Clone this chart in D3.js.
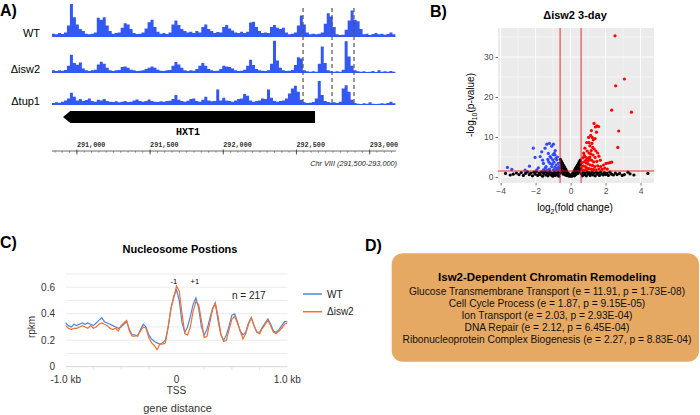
<!DOCTYPE html>
<html><head><meta charset="utf-8">
<script src="https://cdn.jsdelivr.net/npm/d3@7"></script>
<style>body{margin:0;background:#fff}svg{display:block;font-family:"Liberation Sans",Arial,sans-serif}</style>
</head><body>
<svg id="fig" width="700" height="415"></svg>
<script>
// ---------- Panel A data ----------
const trackNames = ["WT", "\u0394isw2", "\u0394tup1"];
const trackStart = 290830, trackEnd = 293180, binSize = 20.4;
const wtCov = [10,8,12,9,14,35,100,60,38,24,18,10,8,10,14,58,52,60,35,18,10,12,14,28,42,38,24,12,9,10,14,26,45,52,30,16,10,12,9,14,38,50,36,24,18,14,16,12,18,14,30,38,24,18,12,15,14,30,36,26,20,14,12,16,12,16,44,46,30,18,12,14,12,30,36,28,24,28,14,8,10,14,35,65,38,14,8,10,8,10,14,40,72,62,30,8,6,7,22,50,80,52,48,24,8,10,6,9,12,8,10,7,9,14,8];
const isw2Cov = [8,6,8,7,9,22,55,30,25,32,14,8,6,8,10,26,34,28,16,8,6,8,9,18,20,16,10,8,6,7,8,12,16,20,16,10,7,6,8,9,22,33,26,16,8,6,8,7,12,22,30,22,12,8,6,7,12,22,20,18,14,8,6,7,10,22,40,24,12,8,7,6,8,28,98,38,16,8,6,7,9,24,48,44,8,5,4,5,4,28,80,30,8,5,4,5,4,10,96,50,22,8,5,4,5,3,4,6,3,8,4,5,4,6,4];
const tup1Cov = [6,8,7,10,14,20,37,25,14,18,12,15,20,12,10,16,14,18,12,10,9,11,8,10,12,9,10,14,17,12,10,12,17,12,10,9,11,10,12,13,18,30,16,12,10,13,18,20,12,10,16,25,14,11,12,47,14,22,14,12,10,14,18,20,33,28,14,10,12,14,20,18,47,22,12,10,12,14,20,35,50,58,40,16,8,6,7,9,20,73,30,12,9,7,8,6,10,50,60,40,16,6,4,3,5,4,8,4,3,4,5,4,6,10,5];
const dashedMarks = [292545, 292743, 292893];
const geneName = "HXT1";
const geneSpan = [290905, 290955, 292627]; // tip, body start, end
const aTicks = [291000, 291500, 292000, 292500, 293000];
const regionLabel = "Chr VIII (291,500-293,000)";

// ---------- Panel B data ----------
const volcanoTitle = "\u0394isw2 3-day";
const fcCut = [-0.6, 0.6], pCut = 1.5;
const bTicksX = [-4, -2, 0, 2, 4], bTicksY = [0, 10, 20, 30];
const downPts = [[-3.61,2.4],[-3.36,1.9],[-2.35,2.7],[-2.13,7.2],[-2.03,4.9],[-1.84,2.3],[-1.93,1.8],[-1.74,5.1],[-1.65,6.3],[-1.55,3.4],[-1.55,1.8],[-1.46,7.2],[-1.40,2.6],[-1.36,8.2],[-1.27,5.9],[-1.21,8.4],[-1.17,5.1],[-1.17,3.4],[-1.08,7.7],[-1.08,2.6],[-1.02,4.3],[-0.98,8.2],[-0.98,1.8],[-0.93,6.0],[-0.89,5.5],[-0.85,4.6],[-0.83,3.0],[-0.79,4.3],[-0.76,2.2],[-0.70,3.4],[-0.70,2.0],[-0.66,2.6],[-1.30,4.4],[-1.25,3.8],[-1.12,4.8],[-1.05,3.2],[-0.95,3.7],[-0.90,2.4],[-1.45,2.2],[-1.60,4.2],[-1.20,2.0],[-0.88,6.6],[-1.00,5.6],[-0.75,5.0],[-0.64,1.9],[-2.60,1.7],[-1.33,1.7],[-0.82,1.7]];
const upPts = [[2.54,35.3],[3.08,24.5],[2.58,22.8],[2.35,16.7],[3.48,16.2],[2.75,11.5],[2.70,7.4],[1.34,13.4],[1.50,12.8],[1.60,12.6],[1.19,11.6],[1.15,10.4],[1.03,9.9],[1.24,9.9],[1.30,9.3],[1.40,9.6],[0.92,8.6],[1.10,7.8],[1.22,8.4],[0.82,7.2],[1.35,7.0],[1.45,6.5],[1.55,6.0],[1.62,5.2],[0.75,6.0],[0.95,6.5],[1.05,6.0],[1.15,5.8],[1.28,5.5],[1.40,4.9],[0.70,4.8],[0.85,5.0],[0.98,4.7],[1.08,4.4],[1.20,4.2],[1.32,3.8],[1.50,3.9],[1.70,4.2],[0.65,3.6],[0.78,3.8],[0.90,3.5],[1.00,3.3],[1.12,3.0],[1.25,2.9],[1.38,2.6],[1.55,2.8],[0.62,2.5],[0.72,2.8],[0.85,2.6],[0.95,2.2],[1.05,2.1],[1.18,2.0],[1.30,1.9],[1.45,1.8],[1.62,2.0],[1.72,2.6],[1.80,1.9],[1.88,3.0],[2.03,3.4],[2.26,3.6],[2.35,3.7],[2.16,3.5],[1.95,2.2],[2.10,2.0],[0.68,1.8],[0.80,1.7],[0.92,1.9],[1.00,4.0],[0.88,4.2],[1.10,5.0],[1.18,6.6],[0.78,5.4],[1.26,7.4],[1.05,8.6],[1.48,11.2],[1.42,12.5]];
const nsPts = [[-3.72,0.9],[-3.45,0.5],[-3.28,0.7],[-3.10,1.0],[-2.95,0.6],[-2.82,1.1],[-2.70,0.4],[-2.58,0.9],[-2.47,1.3],[-2.36,0.6],[-2.28,1.0],[-2.18,0.3],[-2.10,1.2],[-2.02,0.7],[-1.95,1.4],[-1.88,0.4],[-1.80,1.0],[-1.73,0.6],[-1.66,1.3],[-1.60,0.2],[-1.54,0.9],[-1.48,1.4],[-1.42,0.5],[-1.36,1.1],[-1.30,0.3],[-1.25,0.8],[-1.19,1.4],[-1.13,0.5],[-1.08,1.0],[-1.02,0.2],[-0.97,0.7],[-0.92,1.3],[-0.87,0.4],[-0.82,1.0],[-0.77,0.6],[-0.72,1.3],[-0.67,0.2],[-0.62,0.9],
[-0.58,4.4],[-0.56,3.6],[-0.55,2.8],[-0.57,2.0],[-0.54,1.2],[-0.52,3.9],[-0.50,3.1],[-0.49,2.3],[-0.47,1.5],[-0.46,3.4],[-0.44,2.6],[-0.42,0.7],[-0.40,2.9],[-0.38,2.0],[-0.36,1.2],[-0.34,2.5],[-0.32,1.6],[-0.30,0.5],[-0.28,2.0],[-0.26,1.1],[-0.24,1.6],[-0.22,0.4],[-0.20,1.2],[-0.18,0.8],[-0.15,1.0],[-0.13,0.3],[-0.10,0.7],[-0.08,0.4],[-0.05,0.2],[-0.02,0.5],
[0.02,0.3],[0.05,0.5],[0.08,0.2],[0.10,0.8],[0.13,0.5],[0.15,1.1],[0.18,0.7],[0.20,1.4],[0.22,0.3],[0.24,1.8],[0.26,1.0],[0.28,2.1],[0.30,0.6],[0.32,2.4],[0.34,1.4],[0.36,2.7],[0.38,1.8],[0.40,3.0],[0.42,0.9],[0.44,3.2],[0.46,2.2],[0.48,3.6],[0.50,1.4],[0.52,3.9],[0.54,2.7],[0.55,4.2],[0.57,3.3],[0.58,1.9],
[0.62,0.8],[0.68,0.3],[0.73,1.2],[0.79,0.6],[0.84,1.0],[0.90,0.3],[0.95,1.3],[1.00,0.7],[1.06,1.1],[1.12,0.4],[1.17,0.9],[1.23,1.3],[1.29,0.5],[1.35,1.0],[1.41,0.3],[1.47,1.2],[1.53,0.7],[1.59,1.0],[1.65,0.4],[1.72,1.3],[1.78,0.8],[1.86,0.5],[1.93,1.1],[2.00,0.6],[2.08,0.9],[2.16,0.4],[2.25,1.2],[2.34,0.7],[2.45,0.5],[2.56,1.0],[2.66,0.6],[2.80,0.9],[2.95,0.4],[3.08,0.6],[3.28,1.2],[3.40,0.8],[3.62,0.5],[4.42,0.9]];

// ---------- Panel C data ----------
const cTitle = "Nucleosome Postions";
const cSeries = ["WT", "\u0394isw2"];
const cPositions = d3.range(-1000, 1001, 25);
const wtProfile = [0.33,0.31,0.30,0.32,0.31,0.32,0.33,0.32,0.33,0.32,0.31,0.33,0.35,0.37,0.34,0.33,0.32,0.31,0.30,0.29,0.30,0.32,0.34,0.28,0.24,0.24,0.23,0.28,0.32,0.30,0.24,0.21,0.19,0.18,0.17,0.18,0.20,0.30,0.44,0.53,0.58,0.50,0.33,0.26,0.30,0.38,0.47,0.52,0.44,0.30,0.24,0.28,0.36,0.44,0.48,0.35,0.24,0.20,0.24,0.31,0.39,0.40,0.34,0.27,0.24,0.26,0.33,0.37,0.31,0.26,0.26,0.30,0.33,0.36,0.32,0.27,0.26,0.28,0.31,0.34,0.34];
const isw2Profile = [0.31,0.29,0.28,0.29,0.29,0.30,0.31,0.30,0.29,0.31,0.29,0.30,0.32,0.33,0.32,0.31,0.29,0.28,0.29,0.27,0.31,0.33,0.35,0.27,0.23,0.23,0.24,0.27,0.30,0.29,0.22,0.18,0.16,0.13,0.17,0.17,0.18,0.30,0.44,0.52,0.61,0.57,0.40,0.25,0.24,0.30,0.42,0.49,0.47,0.35,0.22,0.23,0.33,0.43,0.48,0.38,0.25,0.19,0.20,0.28,0.36,0.38,0.33,0.27,0.21,0.25,0.32,0.37,0.31,0.26,0.25,0.29,0.32,0.35,0.31,0.26,0.25,0.27,0.29,0.32,0.33];
const cTicksY = [0, 0.2, 0.4, 0.6];
const cGridY = [0, 0.1, 0.2, 0.3, 0.4, 0.5, 0.6, 0.7];
const cTicksX = [-1000, 0, 1000];
const cTickLabels = ["-1.0 kb", "0", "1.0 kb"];
const cMinorX = [-750, -500, -250, 250, 500, 750];
const nLabel = "n = 217";

// ---------- Panel D data ----------
const dTitle = "Isw2-Dependent Chromatin Remodeling";
const goTerms = ["Glucose Transmembrane Transport", "Cell Cycle Process", "Ion Transport", "DNA Repair", "Ribonucleoprotein Complex Biogenesis"];
const goE = ["11.91", "1.87", "2.03", "2.12", "2.27"];
const goP = ["1.73E-08", "9.15E-05", "2.93E-04", "6.45E-04", "8.83E-04"];

const svg = d3.select("#fig");
svg.append("rect").attr("width", 700).attr("height", 415).attr("fill", "#fff");

function panelLabel(t, x, y) {
  svg.append("text").attr("x", x).attr("y", y).attr("font-size", 16).attr("font-weight", "bold").text(t);
}
panelLabel("A)", 0, 16); panelLabel("B)", 430, 17); panelLabel("C)", 0, 248); panelLabel("D)", 365, 251);

// ================= Panel A =================
const xA = d3.scaleLinear().domain([trackStart, trackEnd]).range([52, 396]);
const hA = d3.scaleLinear().domain([0, 100]).range([0, 33]);
const baselines = [37, 73, 105];
const covs = [wtCov, isw2Cov, tup1Cov];
const gA = svg.append("g");
covs.forEach((cov, k) => {
  const base = baselines[k];
  const pts = cov.map((v, i) => [trackStart + i * binSize, v]);
  pts.push([Math.min(trackEnd, trackStart + cov.length * binSize), cov[cov.length - 1]]);
  const area = d3.area().curve(d3.curveStepAfter)
    .x(d => xA(d[0])).y0(base).y1(d => base - hA(d[1]));
  gA.append("path").attr("d", area(pts)).attr("fill", "#3358F4");
  gA.append("text").attr("x", 40).attr("y", base).attr("text-anchor", "end")
    .attr("font-size", 11).text(trackNames[k]);
});
dashedMarks.forEach(g => {
  gA.append("line").attr("x1", xA(g)).attr("x2", xA(g)).attr("y1", 8).attr("y2", 106)
    .attr("stroke", "#555").attr("stroke-width", 1.2).attr("stroke-dasharray", "4,3");
});
// gene arrow
const ay0 = 111, ay1 = 123;
gA.append("path").attr("d", `M${xA(geneSpan[0])},${(ay0 + ay1) / 2} L${xA(geneSpan[1])},${ay0} L${xA(geneSpan[2])},${ay0} L${xA(geneSpan[2])},${ay1} L${xA(geneSpan[1])},${ay1} Z`)
  .attr("fill", "#000");
gA.append("text").attr("x", 188).attr("y", 135).attr("text-anchor", "middle")
  .attr("font-family", "Liberation Mono, monospace").attr("font-weight", "bold").attr("font-size", 10).text(geneName);
// coordinate axis
gA.append("line").attr("x1", 52).attr("x2", 396).attr("y1", 151).attr("y2", 151).attr("stroke", "#444").attr("stroke-width", 0.8);
d3.range(290850, trackEnd, 50).forEach(g => {
  gA.append("line").attr("x1", xA(g)).attr("x2", xA(g)).attr("y1", 151).attr("y2", 152.8).attr("stroke", "#555").attr("stroke-width", 0.6);
});
aTicks.forEach(g => {
  gA.append("line").attr("x1", xA(g)).attr("x2", xA(g)).attr("y1", 149.5).attr("y2", 154.5).attr("stroke", "#333").attr("stroke-width", 0.8);
  gA.append("text").attr("x", xA(g)).attr("y", 147).attr("font-family", "Liberation Mono, monospace")
    .attr("font-weight", "bold").attr("font-size", 6.8).attr("fill", "#333").text(d3.format(",")(g));
});
gA.append("text").attr("x", 397).attr("y", 166).attr("text-anchor", "end").attr("font-style", "italic")
  .attr("font-size", 7.3).attr("fill", "#222").text(regionLabel);

// ================= Panel B =================
const xB = d3.scaleLinear().domain([-4.15, 4.77]).range([498, 654]);
const yB = d3.scaleLinear().domain([-1.5, 37.25]).range([183, 28]);
const gB = svg.append("g");
gB.append("rect").attr("x", 498).attr("y", 28).attr("width", 156).attr("height", 155).attr("fill", "#EBEBEB");
[-3, -1, 1, 3].forEach(v => gB.append("line").attr("x1", xB(v)).attr("x2", xB(v)).attr("y1", 28).attr("y2", 183).attr("stroke", "#fff").attr("stroke-width", 0.4));
[5, 15, 25, 35].forEach(v => gB.append("line").attr("y1", yB(v)).attr("y2", yB(v)).attr("x1", 498).attr("x2", 654).attr("stroke", "#fff").attr("stroke-width", 0.4));
bTicksX.forEach(v => gB.append("line").attr("x1", xB(v)).attr("x2", xB(v)).attr("y1", 28).attr("y2", 183).attr("stroke", "#fff").attr("stroke-width", 0.9));
bTicksY.forEach(v => gB.append("line").attr("y1", yB(v)).attr("y2", yB(v)).attr("x1", 498).attr("x2", 654).attr("stroke", "#fff").attr("stroke-width", 0.9));
const dot = (pts, col) => gB.append("g").selectAll("circle").data(pts).join("circle")
  .attr("cx", d => xB(d[0])).attr("cy", d => yB(d[1])).attr("r", 1.6).attr("fill", col);
dot(nsPts, "#000"); dot(downPts, "#2F4BFF"); dot(upPts, "#FF0000");
fcCut.forEach(v => gB.append("line").attr("x1", xB(v)).attr("x2", xB(v)).attr("y1", 28).attr("y2", 183).attr("stroke", "#E8161B").attr("stroke-width", 0.9));
gB.append("line").attr("x1", 498).attr("x2", 654).attr("y1", yB(pCut)).attr("y2", yB(pCut)).attr("stroke", "#E8161B").attr("stroke-width", 0.9);
const axB = gB.append("g").attr("transform", "translate(0,183)").call(d3.axisBottom(xB).tickValues(bTicksX).tickSize(2.5).tickPadding(2));
const ayB = gB.append("g").attr("transform", "translate(498,0)").call(d3.axisLeft(yB).tickValues(bTicksY).tickSize(2.5).tickPadding(2));
[axB, ayB].forEach(a => {
  a.select(".domain").remove();
  a.selectAll("line").attr("stroke", "#333").attr("stroke-width", 0.7);
  a.selectAll("text").attr("fill", "#4D4D4D").attr("font-size", 8.5).attr("font-family", "Liberation Sans, Arial, sans-serif");
});
gB.append("text").attr("x", 575).attr("y", 19).attr("text-anchor", "middle").attr("font-weight", "bold").attr("font-size", 11).text(volcanoTitle);
const xt = gB.append("text").attr("x", 575).attr("y", 211).attr("text-anchor", "middle").attr("font-size", 10);
xt.append("tspan").text("log");
xt.append("tspan").attr("font-size", 7).attr("dy", 3).text("2");
xt.append("tspan").attr("dy", -3).text("(fold change)");
const yt = gB.append("text").attr("transform", "translate(474,105) rotate(-90)").attr("text-anchor", "middle").attr("font-size", 10);
yt.append("tspan").text("-log");
yt.append("tspan").attr("font-size", 7).attr("dy", 3).text("10");
yt.append("tspan").attr("dy", -3).text("(p-value)");

// ================= Panel C =================
const xC = d3.scaleLinear().domain([-1000, 1000]).range([65.7, 287.3]);
const yC = d3.scaleLinear().domain([0, 0.7]).range([366.7, 274]);
const gC = svg.append("g");
cGridY.forEach(v => gC.append("line").attr("x1", 65.7).attr("x2", 287.3).attr("y1", yC(v)).attr("y2", yC(v))
  .attr("stroke", v === 0 ? "#ccc" : "#e6e6e6").attr("stroke-width", 0.8));
cMinorX.forEach(v => gC.append("line").attr("x1", xC(v)).attr("x2", xC(v)).attr("y1", 366.7).attr("y2", 370).attr("stroke", "#ddd").attr("stroke-width", 0.8));
cTicksY.forEach(v => gC.append("text").attr("x", 55).attr("y", yC(v) + 3.5).attr("text-anchor", "end").attr("font-size", 10).attr("fill", "#333").text(v === 0 ? "0" : v.toFixed(1)));
cTicksX.forEach((v, i) => gC.append("text").attr("x", xC(v)).attr("y", 383).attr("text-anchor", "middle").attr("font-size", 10).attr("fill", "#333").text(cTickLabels[i]));
gC.append("text").attr("x", xC(0)).attr("y", 394).attr("text-anchor", "middle").attr("font-size", 10).attr("fill", "#333").text("TSS");
gC.append("text").attr("x", xC(0) + 1).attr("y", 412).attr("text-anchor", "middle").attr("font-size", 11).attr("fill", "#333").text("gene distance");
gC.append("text").attr("transform", "translate(35,327) rotate(-90)").attr("text-anchor", "middle").attr("font-size", 10).attr("fill", "#333").text("rpkm");
gC.append("text").attr("x", 180).attr("y", 253).attr("text-anchor", "middle").attr("font-weight", "bold").attr("font-size", 11).text(cTitle);
const colC = ["#4A86E8", "#F4702A"];
const lineC = d3.line().x((d, i) => xC(cPositions[i])).y(d => yC(d));
[wtProfile, isw2Profile].forEach((s, k) => gC.append("path").attr("d", lineC(s)).attr("fill", "none").attr("stroke", colC[k]).attr("stroke-width", 1.2));
gC.append("text").attr("x", xC(-25)).attr("y", 284).attr("text-anchor", "middle").attr("font-size", 7.5).text("-1");
gC.append("text").attr("x", xC(165)).attr("y", 284).attr("text-anchor", "middle").attr("font-size", 7.5).text("+1");
gC.append("text").attr("x", 232).attr("y", 299).attr("font-size", 10).attr("fill", "#222").text(nLabel);
cSeries.forEach((s, k) => {
  const y = 294 + k * 17.7;
  gC.append("line").attr("x1", 303).attr("x2", 322).attr("y1", y).attr("y2", y).attr("stroke", colC[k]).attr("stroke-width", 1.5);
  gC.append("text").attr("x", 327).attr("y", y + 3.5).attr("font-size", 10).attr("fill", "#222").text(s);
});

// ================= Panel D =================
const gD = svg.append("g");
gD.append("rect").attr("x", 391.7).attr("y", 253.3).attr("width", 307.3).attr("height", 108.4).attr("rx", 11).attr("fill", "#E6A963");
gD.append("text").attr("x", 547).attr("y", 281).attr("text-anchor", "middle").attr("font-weight", "bold").attr("font-size", 11.5).text(dTitle);
goTerms.forEach((t, i) => gD.append("text").attr("x", 547).attr("y", 295 + i * 12).attr("text-anchor", "middle")
  .attr("font-size", 10.2).attr("fill", "#111").text(`${t} (e = ${goE[i]}, p = ${goP[i]})`));
</script>
</body></html>
